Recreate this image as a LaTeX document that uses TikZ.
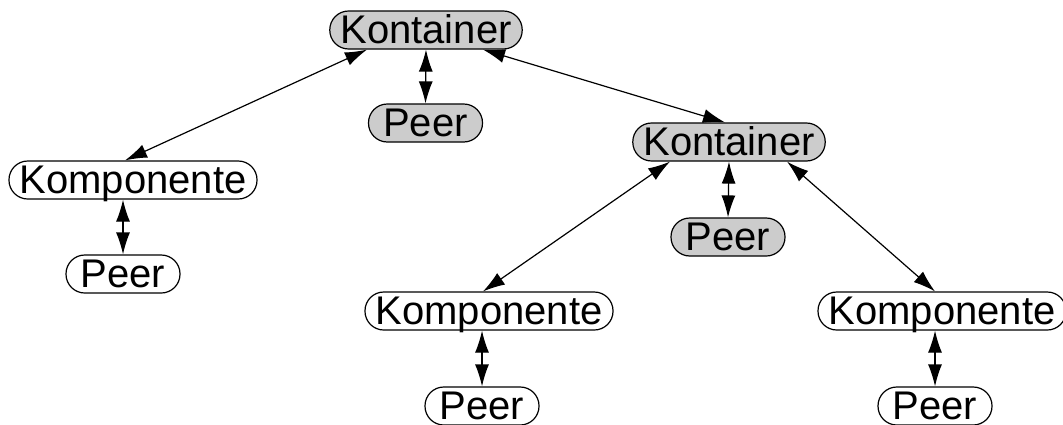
\documentclass[tikz,border=0pt]{standalone}
\usepackage{fontspec}
\setmainfont{Liberation Sans}
\usepackage{tikz}
\usetikzlibrary{arrows.meta,positioning}

\definecolor{kontgray}{RGB}{204,204,204}

\tikzset{
    box/.style={draw, line width=0.6pt, rounded corners=9.4pt, inner xsep=5.3pt, inner ysep=0.5pt,
        text height=15.5pt, text depth=2.5pt, font=\fontsize{20}{24}\selectfont},
    kont/.style={box, fill=kontgray},
    komp/.style={box, fill=white},
    peer/.style={box, minimum width=57pt},
    link/.style={{Latex[length=11pt,width=7pt]}-{Latex[length=11pt,width=7pt]}, line width=0.6pt}
}

\begin{document}
\begin{tikzpicture}[x=0.5pt, y=-0.5pt]
    \useasboundingbox (0, 0) rectangle (1063, 424);

        %% top
        \node[kont] (k1) at (426, 30){Kontainer};
            \node[peer, fill=kontgray] (p1) at (425.5, 123){Peer};

        %% left
        \node[komp] (c1) at (133, 180){Komponente};
            \node[peer] (p3) at (123, 274){Peer};

        %% right
        \node[kont] (k2) at (729, 142){Kontainer};
            \node[peer, fill=kontgray] (p2) at (728, 237){Peer};

        \node[komp] (c2) at (489, 311){Komponente};
            \node[peer] (p4) at (482, 406){Peer};
        \node[komp] (c3) at (942, 311){Komponente};
            \node[peer] (p5) at (935, 406){Peer};

        %% links
        \draw[link] (k1.south) to (p1.north);
        \draw[link] ([xshift=-29.5pt]k1.south) to ([xshift=-4pt]c1.north);
        \draw[link] ([xshift=28.5pt]k1.south) to ([xshift=-2pt]k2.north);
        \draw[link] (k2.south) to (p2.north);
        \draw[link] ([xshift=-29.5pt]k2.south) to ([xshift=-3pt]c2.north);
        \draw[link] ([xshift=29pt]k2.south) to ([xshift=-3.5pt]c3.north);
        \draw[link] (p3.north |- c1.south) to (p3.north);
        \draw[link] (p4.north |- c2.south) to (p4.north);
        \draw[link] (p5.north |- c3.south) to (p5.north);
\end{tikzpicture}
\end{document}
